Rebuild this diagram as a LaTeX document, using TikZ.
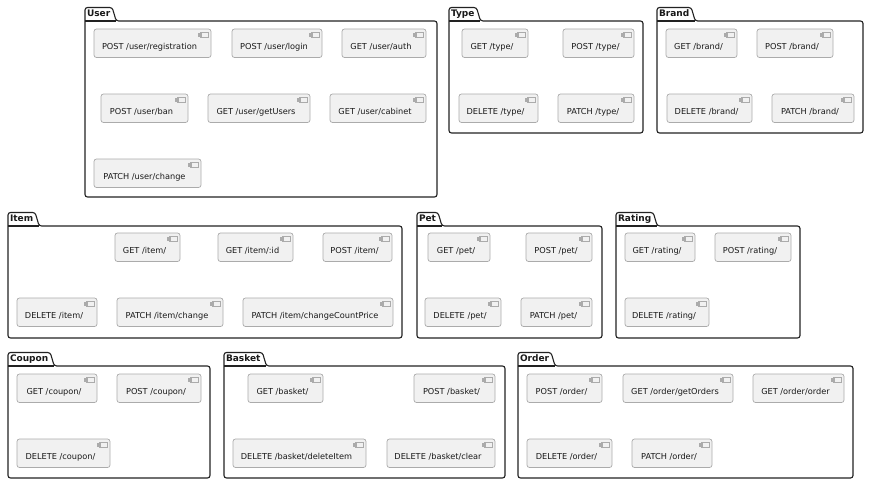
\documentclass[tikz,border=0pt]{standalone}
\usepackage{fontspec}
\setmainfont{DejaVu Sans}
\definecolor{compfill}{HTML}{F1F1F1}
\definecolor{compline}{HTML}{ABABAB}
\definecolor{pkgcol}{HTML}{222222}
\tikzset{
  compbox/.style={draw=compline, fill=compfill, line width=0.7pt, rounded corners=2.5pt,
    inner sep=0pt, outer sep=0pt, anchor=north west, minimum height=28.5pt},
  compicon/.style={draw=compline, fill=compfill, line width=0.6pt},
  comptext/.style={font=\fontsize{8.2}{10}\selectfont, inner sep=0pt, anchor=base, text=black!90},
  pkgframe/.style={draw=pkgcol, line width=1.1pt, rounded corners=2.5pt},
  pkglabel/.style={font=\bfseries\fontsize{9}{10}\selectfont, inner xsep=2pt, inner ysep=2.25pt,
    text height=7pt, text depth=2pt, outer sep=0pt, text=black!90}
}
\newcommand\comp[5]{%
  \node[compbox, minimum width=#4pt-#2pt] (#1) at (#2,#3) {};
  \draw[compicon] ([shift={(-11,3.5)}]#1.north east) rectangle ([shift={(-3,8.5)}]#1.north east);
  \draw[compicon] ([shift={(-12.5,4.3)}]#1.north east) rectangle ([shift={(-9.5,5.5)}]#1.north east);
  \draw[compicon] ([shift={(-12.5,6.5)}]#1.north east) rectangle ([shift={(-9.5,7.7)}]#1.north east);
  \node[comptext] (#1-t) at ([shift={(-3,20)}]#1.north) {#5};
}
\newcommand\pkg[6]{%
  \node[pkglabel, anchor=south west] (#1) at (#2,#4) {#6};
  \draw[pkgframe] (#2,#5) -- (#1.north west) -- (#1.north east) -- ([xshift=4pt]#1.south east)
    -- (#3,#4) -- (#3,#5) -- cycle;
  \draw[pkgframe, rounded corners=0pt] (#2,#4) -- ([xshift=4pt]#1.south east);
}
\begin{document}
\begin{tikzpicture}[x=1pt, y=-1pt]
\fill[white] (0,0) rectangle (870,487);
\useasboundingbox (0,0) rectangle (870,487);

% packages
\pkg{user}{85}{437}{21}{197}{User}
\pkg{type}{449}{643}{21}{133}{Type}
\pkg{brand}{657}{863}{21}{133}{Brand}
\pkg{item}{8}{402}{226}{338}{Item}
\pkg{pet}{417}{602}{226}{338}{Pet}
\pkg{rating}{616}{800}{226}{338}{Rating}
\pkg{coupon}{8}{210}{366}{478}{Coupon}
\pkg{basket}{224}{505}{366}{478}{Basket}
\pkg{order}{518}{853}{366}{478}{Order}

% User
\comp{ureg}{94}{29}{211}{POST /user/registration}
\comp{ulogin}{232}{29}{322}{POST /user/login}
\comp{uauth}{342}{29}{426}{GET /user/auth}
\comp{uban}{101}{94}{188}{POST /user/ban}
\comp{ugetusers}{208}{94}{310}{GET /user/getUsers}
\comp{ucabinet}{330}{94}{426}{GET /user/cabinet}
\comp{uchange}{94}{159}{201}{PATCH /user/change}

% Type
\comp{tget}{462}{29}{528}{GET /type/}
\comp{tpost}{563}{29}{634}{POST /type/}
\comp{tdel}{459}{94}{538}{DELETE /type/}
\comp{tpatch}{558}{94}{634}{PATCH /type/}

% Brand
\comp{bget}{666}{29}{737}{GET /brand/}
\comp{bpost}{757}{29}{833}{POST /brand/}
\comp{bdel}{667}{94}{752}{DELETE /brand/}
\comp{bpatch}{772}{94}{854}{PATCH /brand/}

% Item
\comp{iget}{115}{233}{180}{GET /item/}
\comp{igetid}{218}{233}{293}{GET /item/:id}
\comp{ipost}{323}{233}{392}{POST /item/}
\comp{idel}{17}{298}{97}{DELETE /item/}
\comp{ipatch}{117}{298}{223}{PATCH /item/change}
\comp{ipatchcp}{243}{298}{393}{PATCH /item/changeCountPrice}

% Pet
\comp{pget}{428}{233}{490}{GET /pet/}
\comp{ppost}{526}{233}{592}{POST /pet/}
\comp{pdel}{425}{298}{501}{DELETE /pet/}
\comp{ppatch}{521}{298}{592}{PATCH /pet/}

% Rating
\comp{rget}{625}{233}{695}{GET /rating/}
\comp{rpost}{715}{233}{791}{POST /rating/}
\comp{rdel}{625}{298}{709}{DELETE /rating/}

% Coupon
\comp{cget}{17}{374}{97}{GET /coupon/}
\comp{cpost}{117}{374}{201}{POST /coupon/}
\comp{cdel}{17}{439}{110}{DELETE /coupon/}

% Basket
\comp{baget}{248}{374}{323}{GET /basket/}
\comp{bapost}{414}{374}{495}{POST /basket/}
\comp{badelitem}{233}{439}{366}{DELETE /basket/deleteItem}
\comp{baclear}{387}{439}{495}{DELETE /basket/clear}

% Order
\comp{opost}{527}{374}{602}{POST /order/}
\comp{ogetorders}{623}{374}{733}{GET /order/getOrders}
\comp{oorder}{753}{374}{844}{GET /order/order}
\comp{odel}{527}{439}{612}{DELETE /order/}
\comp{opatch}{632}{439}{712}{PATCH /order/}
\end{tikzpicture}
\end{document}
